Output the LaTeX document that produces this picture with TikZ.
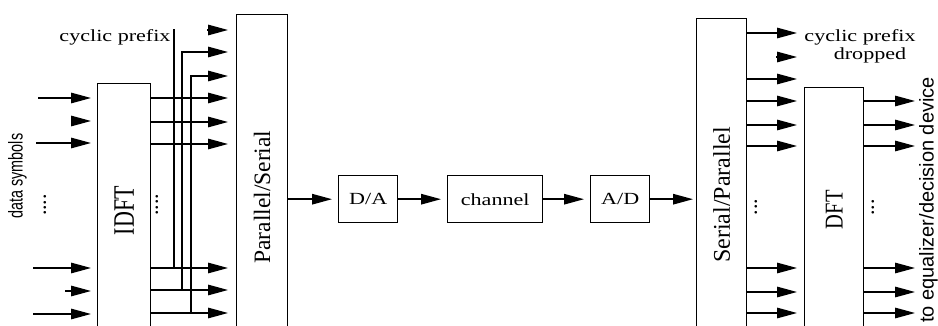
\documentclass[tikz,border=0pt]{standalone}
\usepackage{fontspec}
\setmainfont{Liberation Serif}
\newfontfamily\sansf{Liberation Sans}
\usepackage{graphicx}
\usetikzlibrary{arrows.meta}
\newcommand{\wide}[1]{\scalebox{1.3}[1]{#1}}
\begin{document}
\begin{tikzpicture}[x=1pt,y=-1pt,
  box/.style={draw, line width=1.4pt, inner sep=0pt, anchor=north west},
  ln/.style={line width=1.4pt},
  arr/.style={line width=1.4pt, -{Triangle[length=20pt,width=10.5pt]}},
  into/.style={arr, shorten >=#1}, into/.default=6pt,
  htext/.style={inner sep=0pt, font=\fontsize{17}{20}\selectfont},
  dots/.style={rotate=90, inner sep=0pt, font=\fontsize{22}{24}\selectfont}]
\useasboundingbox (0,0) rectangle (938,326);

% blocks
\node[box, minimum width=53pt, minimum height=254pt] (idft) at (97,83)
  {\rotatebox{90}{\scalebox{1}[1.35]{\fontsize{22}{24}\selectfont IDFT}}};
\node[box, minimum width=51pt, minimum height=365pt] (ps) at (236,14)
  {\rotatebox{90}{\fontsize{23.5}{26}\selectfont Parallel/Serial}};
\node[box, minimum width=59pt, minimum height=47pt, font=\fontsize{17}{20}\selectfont] (da) at (338,175) {\wide{D/A}};
\node[box, minimum width=95pt, minimum height=47pt, font=\fontsize{17}{20}\selectfont] (ch) at (447,175) {\wide{channel}};
\node[box, minimum width=59pt, minimum height=47pt, font=\fontsize{17}{20}\selectfont] (ad) at (590,175) {\wide{A/D}};
\node[box, minimum width=50pt, minimum height=352pt] (sp) at (696,18)
  {\rotatebox{90}{\fontsize{24}{26}\selectfont Serial/Parallel}};
\node[box, minimum width=59pt, minimum height=244pt] (dft) at (804,87)
  {\rotatebox{90}{\scalebox{1}[1.25]{\fontsize{20.5}{24}\selectfont DFT}}};

% texts
\node[rotate=90, inner sep=0pt, font=\sansf\fontsize{20}{24}\selectfont] (ds) at (17.5,176) {\scalebox{0.72}[1]{data symbols}};
\node[htext] (cpl) at (115,37.5) {\wide{cyclic prefix}};
\node[htext] (cpr) at (860,37.5) {\wide{cyclic prefix}};
\node[htext] (drop) at (870,55.5) {\wide{dropped}};
\node[rotate=90, anchor=base, inner sep=0pt, font=\sansf\fontsize{20}{24}\selectfont] (eq) at (933.5,200) {to equalizer/decision device};
\node[dots] (d1) at (45,205) {....};
\node[dots] (d2) at (157,204.5) {....};
\node[dots] (d3) at (756,207) {...};
\node[dots] (d4) at (873,207.5) {...};

% data symbol inputs
\coordinate (i1) at (38,98);
\coordinate (i2) at (71,121);
\coordinate (i3) at (36,143);
\coordinate (i4) at (33,268);
\coordinate (i5) at (65,291);
\coordinate (i6) at (33,314);
\foreach \n in {1,...,6} \draw[into] (i\n) -- (i\n -| idft.west);

% IDFT -> Parallel/Serial
\foreach \y in {30,52,76,98,122,144,268,290,313} \coordinate (L\y) at (0,\y);
\foreach \y in {98,122,144,268,290,313} \draw[into=8pt] (idft.east |- L\y) -- (ps.west |- L\y);

% cyclic prefix copies
\coordinate (j1) at (174,268);
\coordinate (t1) at (174,29);
\draw[ln] (j1) -- (t1);
\coordinate (j2) at (182,290);
\draw[into=8pt] (j2) |- (ps.west |- L52);
\coordinate (j3) at (191,313);
\draw[into=8pt] (j3) |- (ps.west |- L76);
\coordinate (s0) at (207,30);
\draw[into=8pt] (s0) -- (ps.west |- L30);

% chain
\draw[into] (ps.east |- da.west) -- (da.west);
\draw[into] (da.east) -- (ch.west);
\draw[into] (ch.east) -- (ad.west);
\draw[into=3pt] (ad.east) -- (sp.west |- ad.east);

% Serial/Parallel outputs
\foreach \y in {33,57,79,101,125,146,268,292,313} \coordinate (R\y) at (0,\y);
\coordinate (e33) at (797,33);
\coordinate (s57) at (776,57);
\coordinate (e57) at (797,57);
\coordinate (e79) at (797,79);
\draw[arr] (sp.east |- R33) -- (e33);
\draw[arr] (s57) -- (e57);
\draw[arr] (sp.east |- R79) -- (e79);
\foreach \y in {101,125,146,268,292,313} \draw[into=7pt] (sp.east |- R\y) -- (dft.west |- R\y);

% DFT outputs
\foreach \y in {101,125,146,268,292,313} {
  \coordinate (o\y) at (915,\y);
  \draw[arr] (dft.east |- R\y) -- (o\y);
}
\end{tikzpicture}
\end{document}
